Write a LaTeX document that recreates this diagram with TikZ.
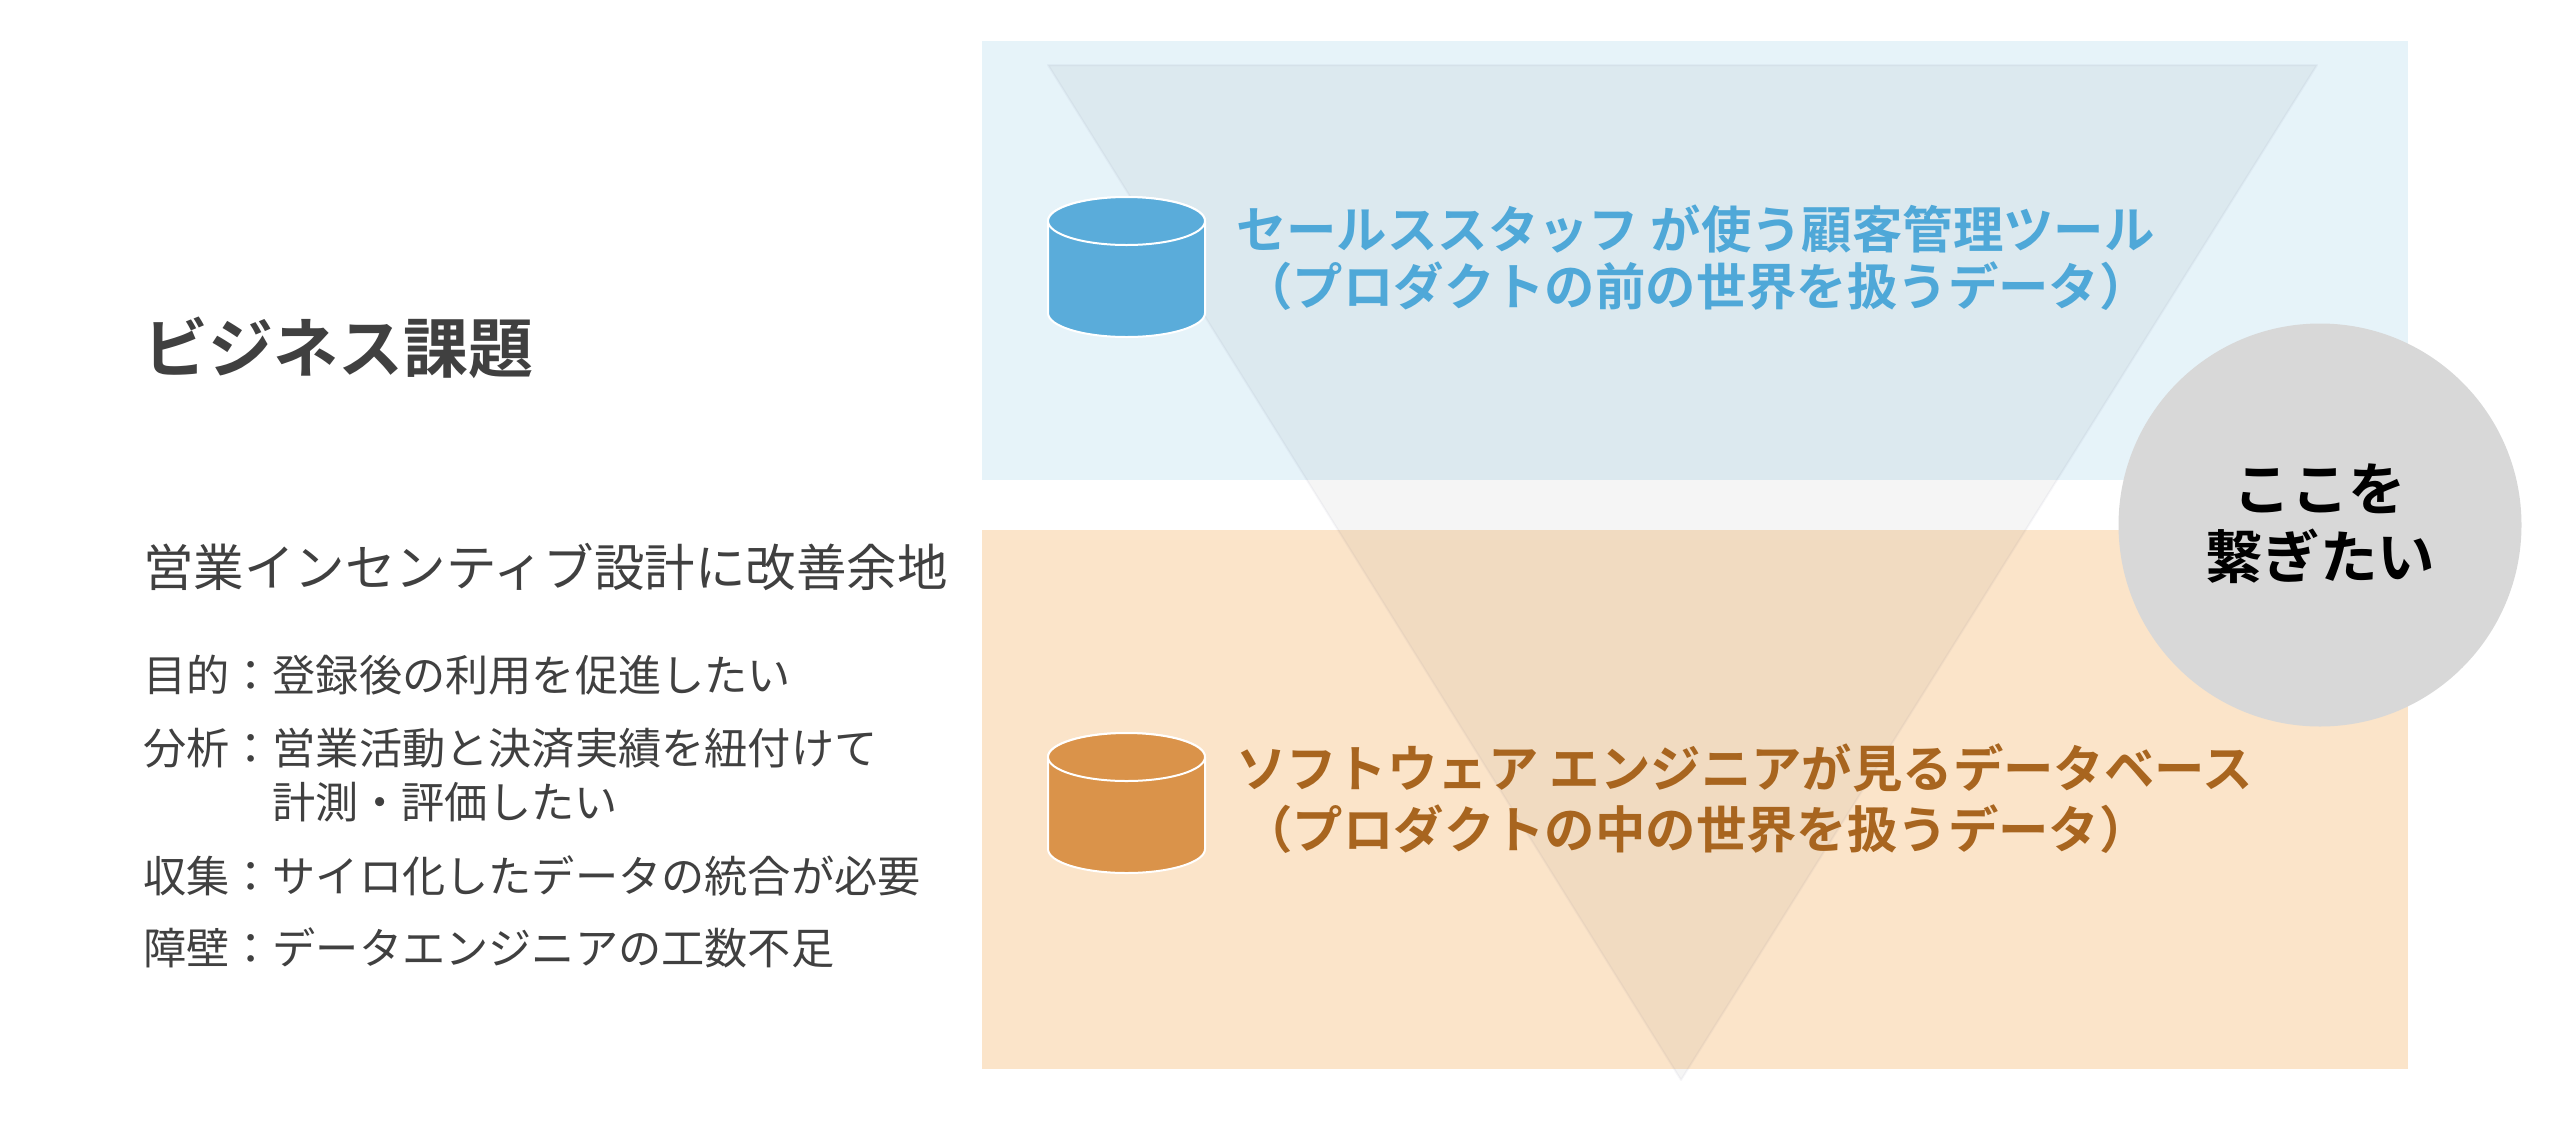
\documentclass[tikz,border=0pt]{standalone}
\usepackage{fontspec}
\setmainfont{Noto Sans CJK JP}
\newfontfamily\jpbold{Noto Sans CJK JP Bold}
\definecolor{bluepanel}{HTML}{E6F3F9}
\definecolor{orangepanel}{HTML}{FBE4C9}
\definecolor{bluedb}{HTML}{5AACDA}
\definecolor{orangedb}{HTML}{DA934A}
\definecolor{bluetext}{HTML}{4FA8D8}
\definecolor{orangetext}{HTML}{A8651F}
\definecolor{graytext}{HTML}{404040}
\definecolor{circlegray}{HTML}{D8D8D8}
\tikzset{
  x=1pt,y=-1pt,
  panel/.style={inner sep=0pt,outer sep=0pt,draw=none,minimum width=1426pt,anchor=north west},
  txt/.style={inner sep=0pt,outer sep=0pt,anchor=base west},
  headline/.style={txt,font=\jpbold\fontsize{50.4}{50.4}\selectfont},
  titletext/.style={txt,text=graytext,font=\jpbold\fontsize{65}{65}\selectfont},
  subtext/.style={txt,text=graytext,font=\fontsize{50.5}{50.5}\selectfont},
  itemtext/.style={txt,text=graytext,font=\fontsize{43.2}{43.2}\selectfont},
  circletext/.style={inner sep=0pt,outer sep=0pt,anchor=base,text=black,font=\jpbold\fontsize{57.5}{57.5}\selectfont},
  dbshape/.style={draw=white,line width=2pt},
}
\newcommand{\dbcyl}[2]{%
  \fill[#2,dbshape] (1048,#1+24) -- (1048,#1+116) arc[start angle=180,end angle=360,x radius=78.5,y radius=-24] -- (1205,#1+24) arc[start angle=0,end angle=180,x radius=78.5,y radius=-24] -- cycle;
  \fill[#2,dbshape] (1126.5,#1+24) ellipse[x radius=78.5,y radius=24];
}
\begin{document}
\begin{tikzpicture}
\useasboundingbox (0,0) rectangle (2567,1120);
\node[panel,fill=bluepanel,minimum height=439pt] (bluebox) at (982,41) {};
\node[panel,fill=orangepanel,minimum height=539pt] (orangebox) at (982,530) {};
\fill[black,fill opacity=.04,draw=black!40!blue!30!gray,draw opacity=.05,line width=2pt,line join=round] (1048,65) -- (2317,65) -- (1681,1080) -- cycle;
\dbcyl{197}{bluedb}
\dbcyl{733}{orangedb}
\node[headline,text=bluetext] (b1) at (1236,248) {セールススタッフ が使う顧客管理ツール};
\node[headline,text=bluetext] (b2) at (1236,305) {\kern.13em（プロダクトの前の世界を扱うデータ）};
\node[headline,text=orangetext] (o1) at (1236,787) {ソフトウェア エンジニアが見るデータベース};
\node[headline,text=orangetext] (o2) at (1236,848) {\kern.13em（プロダクトの中の世界を扱うデータ）};
\node[circle,fill=circlegray,inner sep=0pt,minimum size=403pt] (joincircle) at (2320,525) {};
\node[circletext] (c1) at (2320,510) {ここを};
\node[circletext] (c2) at (2320,578) {繋ぎたい};
\node[titletext] (title) at (143,372) {ビジネス課題};
\node[subtext] (sub) at (143,586) {営業インセンティブ設計に改善余地};
\node[itemtext] (i1) at (143,691) {目的：登録後の利用を促進したい};
\node[itemtext] (i2) at (143,764) {分析：営業活動と決済実績を紐付けて};
\node[itemtext] (i2b) at (272,818) {計測・評価したい};
\node[itemtext] (i3) at (143,892) {収集：サイロ化したデータの統合が必要};
\node[itemtext] (i4) at (143,964) {障壁：データエンジニアの工数不足};
\end{tikzpicture}
\end{document}
